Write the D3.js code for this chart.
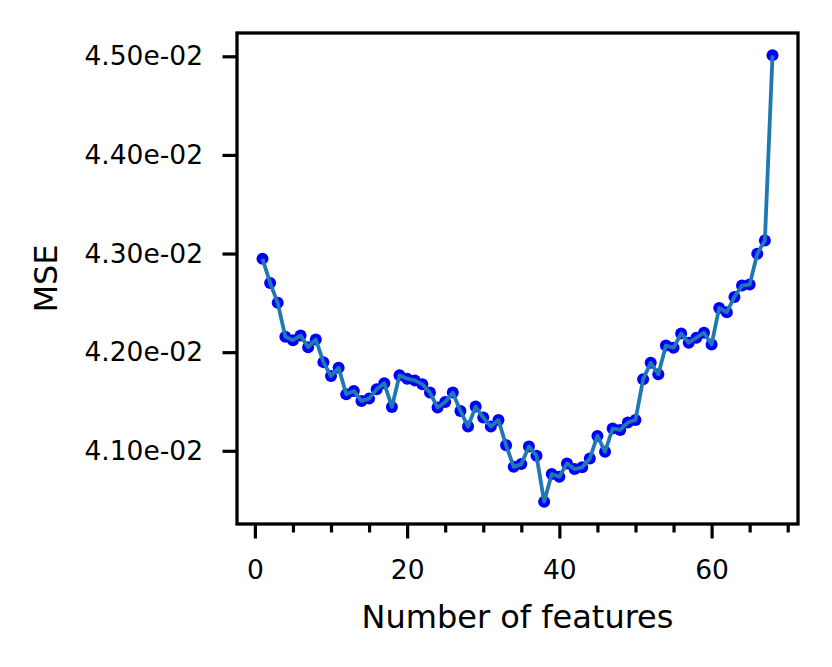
<!DOCTYPE html>
<html>
<head>
<meta charset="utf-8">
<script src="https://cdn.jsdelivr.net/npm/d3@7"></script>
<style>
  html, body { margin: 0; padding: 0; background: #ffffff; }
  svg { display: block; font-family: "DejaVu Sans", sans-serif; }
</style>
</head>
<body>
<svg id="chart" width="832" height="667"></svg>
<script>
// ---- data ----
const features = d3.range(1, 69); // 1..68
const mse = [
  0.042947, 0.042702, 0.042500, 0.042156, 0.042122, 0.042169, 0.042051, 0.042129,
  0.041899, 0.041758, 0.041843, 0.041573, 0.041606, 0.041505, 0.041529, 0.041623,
  0.041684, 0.041445, 0.041765, 0.041731, 0.041714, 0.041674, 0.041590, 0.041438,
  0.041495, 0.041590, 0.041404, 0.041246, 0.041448, 0.041337, 0.041246, 0.041313,
  0.041056, 0.040837, 0.040865, 0.041044, 0.040949, 0.040484, 0.040764, 0.040737,
  0.040872, 0.040815, 0.040832, 0.040922, 0.041151, 0.040990, 0.041226, 0.041212,
  0.041287, 0.041313, 0.041725, 0.041893, 0.041775, 0.042068, 0.042045, 0.042189,
  0.042096, 0.042146, 0.042197, 0.042078, 0.042449, 0.042405, 0.042560, 0.042675,
  0.042685, 0.042998, 0.043133, 0.045010
];
const xMajorTicks = [0, 20, 40, 60];
const xMinorTicks = [5, 10, 15, 25, 30, 35, 45, 50, 55, 65, 70];
const yTicks = [0.041, 0.042, 0.043, 0.044, 0.045];
const xLabel = "Number of features";
const yLabel = "MSE";

// ---- layout ----
const pL = 237, pR = 798, pT = 33, pB = 524;
const svg = d3.select("#chart");

function padded(ext) {
  const m = (ext[1] - ext[0]) * 0.05;
  return [ext[0] - m, ext[1] + m];
}
const x = d3.scaleLinear().domain(padded(d3.extent(features))).range([pL, pR]);
const y = d3.scaleLinear().domain(padded(d3.extent(mse))).range([pB, pT]);

function sciFmt(v) {
  const s = v.toExponential(2); // e.g. 4.50e-2
  return s.replace(/e([+-])(\d)$/, "e$10$2");
}

const data = features.map((f, i) => ({ f: f, v: mse[i] }));

// markers
svg.append("g").selectAll("circle").data(data).join("circle")
  .attr("cx", d => x(d.f)).attr("cy", d => y(d.v)).attr("r", 6)
  .attr("fill", "#0000ff");

// line on top
svg.append("path").datum(data)
  .attr("fill", "none").attr("stroke", "#1f77b4").attr("stroke-width", 3.8)
  .attr("stroke-linejoin", "round").attr("stroke-linecap", "butt")
  .attr("d", d3.line().x(d => x(d.f)).y(d => y(d.v)));

// x axis major
const gx = svg.append("g").attr("transform", `translate(0,${pB})`)
  .call(d3.axisBottom(x).tickValues(xMajorTicks).tickFormat(d3.format("d"))
    .tickSize(14.5).tickSizeOuter(0).tickPadding(22));
// x axis minor
const gxm = svg.append("g").attr("transform", `translate(0,${pB})`)
  .call(d3.axisBottom(x).tickValues(xMinorTicks).tickFormat("")
    .tickSize(8.5).tickSizeOuter(0));
// y axis
const gy = svg.append("g").attr("transform", `translate(${pL},0)`)
  .call(d3.axisLeft(y).tickValues(yTicks).tickFormat(sciFmt)
    .tickSize(14.5).tickSizeOuter(0).tickPadding(19.5));

[gx, gxm, gy].forEach(g => {
  g.select(".domain").remove();
  g.selectAll(".tick line").attr("stroke", "#000").attr("stroke-width", 3.2);
  g.selectAll(".tick text").attr("fill", "#000")
    .style("font-family", "'DejaVu Sans', sans-serif").style("font-size", "26.5px");
});

// frame
svg.append("rect").attr("x", pL).attr("y", pT)
  .attr("width", pR - pL).attr("height", pB - pT)
  .attr("fill", "none").attr("stroke", "#000").attr("stroke-width", 3.3);

// axis labels
svg.append("text").attr("x", (pL + pR) / 2).attr("y", 628)
  .attr("text-anchor", "middle").style("font-size", "32px").attr("fill", "#000")
  .text(xLabel);
svg.append("text")
  .attr("transform", `translate(57,${(pT + pB) / 2}) rotate(-90)`)
  .attr("text-anchor", "middle").style("font-size", "32px").attr("fill", "#000")
  .text(yLabel);
</script>
</body>
</html>
